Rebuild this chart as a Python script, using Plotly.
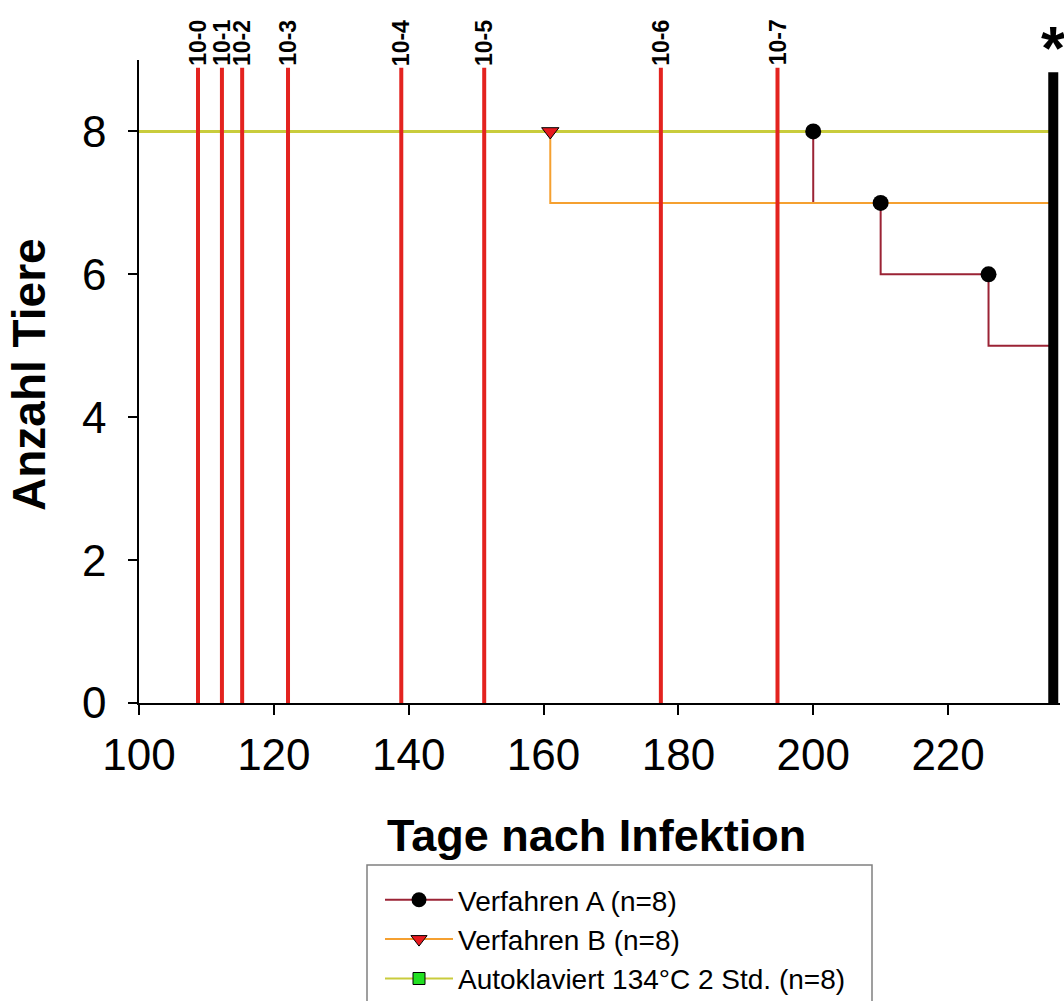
import plotly.graph_objects as go

# ---- data ----
dilution_days = [108.75, 112.3, 115.3, 122.1, 138.9, 151.2, 177.4, 194.7]
dilution_labels = ["10-0", "10-1", "10-2", "10-3", "10-4", "10-5", "10-6", "10-7"]
dilution_top = 8.89

end_day = 235.6
end_top = 8.83

a_step_x = [100, 200, 210, 226, end_day]
a_step_y = [8, 7, 6, 5, 5]
a_event_x = [200, 210, 226]
a_event_y = [8, 7, 6]

b_step_x = [100, 161, end_day]
b_step_y = [8, 7, 7]
b_event_x = [161]
b_event_y = [8]

c_step_x = [100, end_day]
c_step_y = [8, 8]

x_ticks = [100, 120, 140, 160, 180, 200, 220]
y_ticks = [0, 2, 4, 6, 8]

names = ["Verfahren A (n=8)", "Verfahren B (n=8)", "Autoklaviert 134°C 2 Std. (n=8)"]
col_a = "#9B2335"
col_b = "#F5A030"
col_c = "#C9CC3C"
col_red = "#E3231F"

FONT = "Liberation Sans, Arial, sans-serif"
L, R, T, B = 139, 4, 60, 298
PW, PH = 1064 - L - R, 1001 - T - B


def px_x(p):
    return (p - L) / PW


def px_y(p):
    return (1001 - B - p) / PH


fig = go.Figure()

# step lines
fig.add_trace(go.Scatter(x=a_step_x, y=a_step_y, mode="lines", line=dict(color=col_a, width=2, shape="hv"),
                         showlegend=False, hoverinfo="skip"))
fig.add_trace(go.Scatter(x=b_step_x, y=b_step_y, mode="lines", line=dict(color=col_b, width=2, shape="hv"),
                         showlegend=False, hoverinfo="skip"))
fig.add_trace(go.Scatter(x=c_step_x, y=c_step_y, mode="lines", line=dict(color=col_c, width=3, shape="hv"),
                         showlegend=False, hoverinfo="skip"))

# dilution lines
dx, dy = [], []
for d in dilution_days:
    dx += [d, d, None]
    dy += [0, dilution_top, None]
fig.add_trace(go.Scatter(x=dx, y=dy, mode="lines", line=dict(color=col_red, width=4),
                         showlegend=False, hoverinfo="skip"))

# end line
fig.add_trace(go.Scatter(x=[end_day, end_day], y=[0, end_top], mode="lines",
                         line=dict(color="black", width=10), showlegend=False, hoverinfo="skip"))

# markers
fig.add_trace(go.Scatter(x=a_event_x, y=a_event_y, mode="markers",
                         marker=dict(symbol="circle", size=16, color="black"), showlegend=False))
fig.add_trace(go.Scatter(x=b_event_x, y=b_event_y, mode="markers",
                         marker=dict(symbol="triangle-down", size=15, color="#E8191E",
                                     line=dict(color="black", width=1)), showlegend=False))

# legend entries
fig.add_trace(go.Scatter(x=[None], y=[None], mode="lines+markers", name=names[0],
                         line=dict(color=col_a, width=2),
                         marker=dict(symbol="circle", size=15, color="black")))
fig.add_trace(go.Scatter(x=[None], y=[None], mode="lines+markers", name=names[1],
                         line=dict(color=col_b, width=2),
                         marker=dict(symbol="triangle-down", size=14, color="#E8191E",
                                     line=dict(color="black", width=1))))
fig.add_trace(go.Scatter(x=[None], y=[None], mode="lines+markers", name=names[2],
                         line=dict(color=col_c, width=2),
                         marker=dict(symbol="square", size=12, color="#22E022",
                                     line=dict(color="black", width=1))))

annotations = []
for d, lab in zip(dilution_days, dilution_labels):
    annotations.append(dict(x=d, y=dilution_top, xref="x", yref="y", text=lab, textangle=-90,
                            showarrow=False, yanchor="bottom", xanchor="center", yshift=0,
                            font=dict(family=FONT, size=23, color="black", weight="bold")))
annotations.append(dict(x=end_day, y=end_top, xref="x", yref="y", text="*", showarrow=False,
                        yanchor="bottom", xanchor="center", yshift=-12,
                        font=dict(family=FONT, size=62, color="black", weight="bold")))
annotations.append(dict(x=px_x(29), y=px_y(375), xref="paper", yref="paper",
                        text="Anzahl Tiere", textangle=-90, showarrow=False,
                        xanchor="center", yanchor="middle",
                        font=dict(family=FONT, size=46, color="black", weight="bold")))
annotations.append(dict(x=px_x(596), y=px_y(835), xref="paper", yref="paper",
                        text="Tage nach Infektion", showarrow=False,
                        xanchor="center", yanchor="middle",
                        font=dict(family=FONT, size=45, color="black", weight="bold")))

shapes = [dict(type="rect", xref="paper", yref="paper",
               x0=px_x(367), x1=px_x(872), y0=px_y(1010), y1=px_y(865),
               line=dict(color="#808080", width=1.5), fillcolor="rgba(0,0,0,0)", layer="below")]

fig.update_layout(
    width=1064, height=1001,
    margin=dict(l=L, r=R, t=T, b=B, autoexpand=False),
    paper_bgcolor="white", plot_bgcolor="white",
    font=dict(family=FONT, color="black"),
    annotations=annotations,
    shapes=shapes,
    legend=dict(x=px_x(380), y=px_y(875), xanchor="left", yanchor="top",
                bgcolor="rgba(0,0,0,0)", borderwidth=0,
                font=dict(family=FONT, size=28, color="black"), itemwidth=68,
                tracegroupgap=0),
    xaxis=dict(range=[100, 236.6], tickvals=x_ticks, showgrid=False, zeroline=False,
               showline=True, linecolor="black", linewidth=1.5,
               ticks="outside", ticklen=10, tickwidth=1.5, tickcolor="black",
               tickfont=dict(family=FONT, size=44), ticklabelstandoff=2),
    yaxis=dict(range=[0, 9], tickvals=y_ticks, showgrid=False, zeroline=False,
               showline=True, linecolor="black", linewidth=1.5,
               ticks="outside", ticklen=9, tickwidth=1.5, tickcolor="black",
               tickfont=dict(family=FONT, size=44), ticklabelstandoff=13),
)

fig.write_html("out.html")
